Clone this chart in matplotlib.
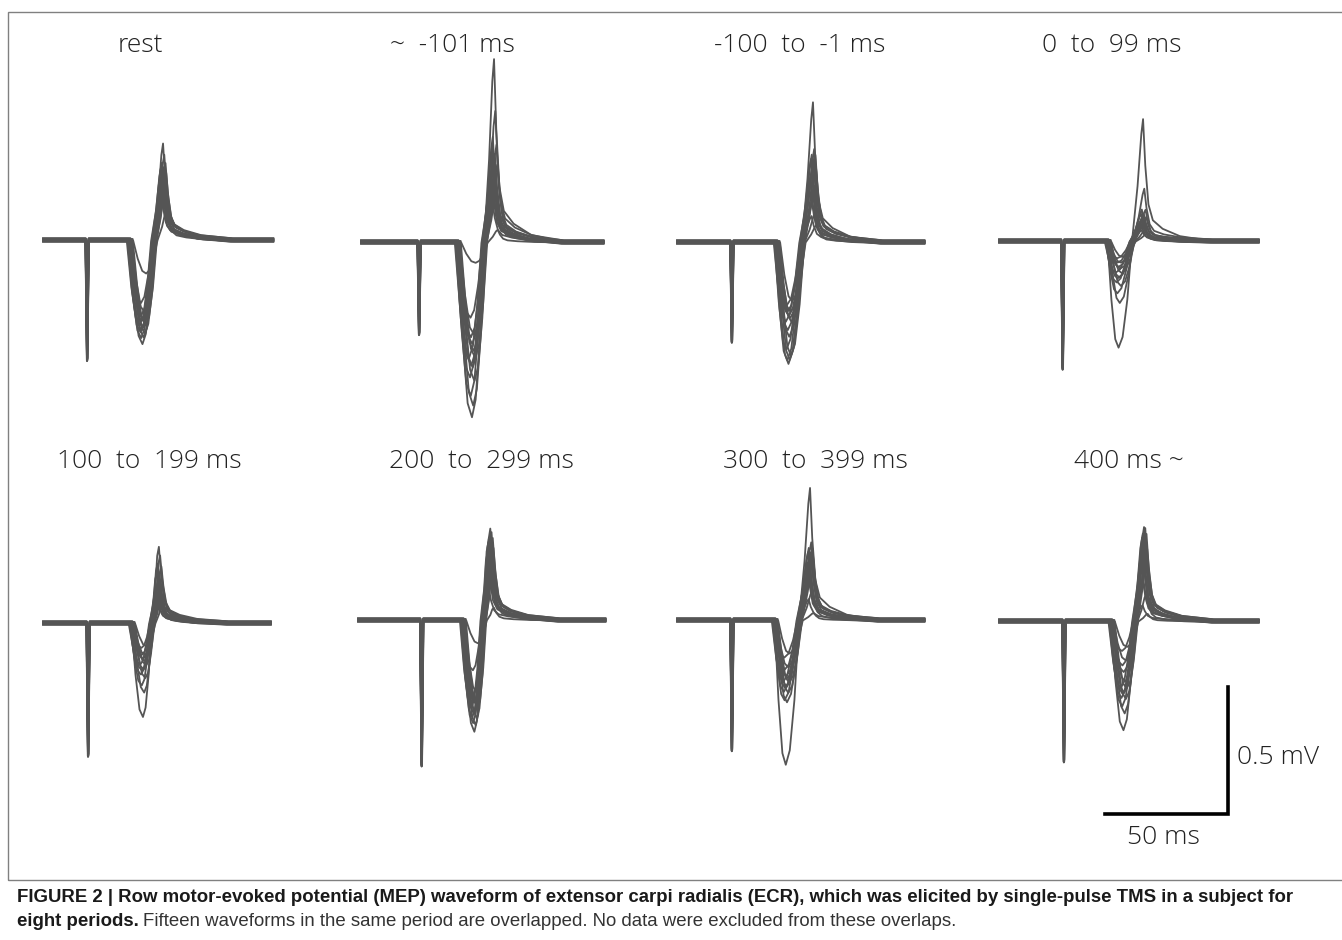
import matplotlib
matplotlib.use("Agg")
import matplotlib.pyplot as plt
from matplotlib.patches import Rectangle

W, H = 1342, 940
PX_MS = 2.45   # pixels per ms  (50 ms bar)
PX_MV = 254    # pixels per mV  (0.5 mV bar)

titles = ["rest", "~  -101 ms", "-100  to  -1 ms", "0  to  99 ms",
          "100  to  199 ms", "200  to  299 ms", "300  to  399 ms", "400 ms ~"]

# timing per period (ms from sweep start)
sweep = [94, 99, 101, 106, 93, 101, 101, 106]
art_t = [18.0, 23.7, 22.4, 26.0, 18.4, 26.0, 22.4, 26.5]
art_mv = [-0.47, -0.36, -0.39, -0.50, -0.52, -0.57, -0.51, -0.55]
onset = [35.3, 39.4, 40.6, 44.3, 36.1, 42.7, 39.8, 45.8]
trough_t = [40.6, 45.3, 45.5, 48.8, 40.8, 47.5, 44.4, 50.8]
peak_t = [49.0, 54.3, 55.5, 58.8, 47.3, 54.0, 54.3, 59.2]

# negative / positive MEP amplitude of each of the 15 sweeps (mV)
troughs = [
    [-0.41, -0.39, -0.38, -0.37, -0.36, -0.35, -0.35, -0.34, -0.33, -0.32, -0.31, -0.30, -0.28, -0.25, -0.13],
    [-0.69, -0.65, -0.60, -0.55, -0.53, -0.50, -0.48, -0.46, -0.45, -0.43, -0.40, -0.38, -0.36, -0.30, -0.08],
    [-0.48, -0.47, -0.46, -0.45, -0.42, -0.38, -0.34, -0.32, -0.31, -0.30, -0.29, -0.28, -0.27, -0.25, -0.23],
    [-0.42, -0.25, -0.20, -0.18, -0.16, -0.15, -0.14, -0.13, -0.12, -0.11, -0.10, -0.09, -0.08, -0.07, -0.06],
    [-0.37, -0.28, -0.24, -0.22, -0.20, -0.19, -0.18, -0.17, -0.16, -0.15, -0.14, -0.13, -0.12, -0.10, -0.09],
    [-0.44, -0.42, -0.40, -0.39, -0.38, -0.37, -0.36, -0.35, -0.34, -0.33, -0.32, -0.30, -0.28, -0.20, -0.09],
    [-0.57, -0.33, -0.31, -0.29, -0.28, -0.27, -0.26, -0.25, -0.24, -0.23, -0.22, -0.20, -0.18, -0.15, -0.13],
    [-0.43, -0.37, -0.33, -0.31, -0.30, -0.29, -0.28, -0.27, -0.26, -0.24, -0.20, -0.18, -0.15, -0.12, -0.10],
]
peaks = [
    [0.38, 0.33, 0.31, 0.30, 0.29, 0.28, 0.27, 0.26, 0.25, 0.24, 0.23, 0.22, 0.20, 0.18, 0.12],
    [0.72, 0.51, 0.42, 0.38, 0.36, 0.34, 0.32, 0.30, 0.28, 0.26, 0.24, 0.22, 0.20, 0.15, 0.05],
    [0.55, 0.36, 0.35, 0.34, 0.33, 0.32, 0.30, 0.28, 0.26, 0.22, 0.18, 0.15, 0.12, 0.10, 0.07],
    [0.48, 0.20, 0.13, 0.12, 0.11, 0.10, 0.10, 0.09, 0.08, 0.08, 0.07, 0.06, 0.05, 0.04, 0.03],
    [0.30, 0.26, 0.24, 0.22, 0.20, 0.18, 0.17, 0.15, 0.14, 0.13, 0.12, 0.11, 0.10, 0.09, 0.08],
    [0.36, 0.34, 0.33, 0.32, 0.31, 0.30, 0.29, 0.28, 0.27, 0.26, 0.25, 0.22, 0.18, 0.12, 0.05],
    [0.52, 0.30, 0.29, 0.28, 0.27, 0.26, 0.25, 0.24, 0.23, 0.22, 0.20, 0.17, 0.12, 0.08, 0.03],
    [0.37, 0.36, 0.35, 0.34, 0.33, 0.32, 0.30, 0.28, 0.26, 0.24, 0.20, 0.15, 0.11, 0.06, 0.03],
]
# latency scatter and baseline level of the 15 sweeps
lag_ms = [0.0, 0.5, -0.5, 1.0, -0.8, 0.3, -0.3, 1.3, -1.1, 0.7, 0.1, -0.4, 0.9, -0.6, 1.5]
level_mv = [0.0, 0.006, -0.006, 0.003, -0.003, 0.007, -0.007, 0.004, -0.004, 0.001, -0.001, 0.005, -0.005, 0.002, -0.002]

# MEP shape (fraction of trough / peak)
neg_shape = [0, 0.55, 0.92, 1.0, 0.9, 0.55, 0]
pos_shape = [0, 0.45, 0.88, 1.0, 0.62, 0.3, 0.17, 0.1, 0.04, 0]

# panel layout in pixels: sweep start x, baseline y
x0_px = [43, 361, 677, 999, 43, 358, 677, 999]
base_px = [240, 242, 242, 241, 623, 620, 620, 621]
title_xy = [(140, 46), (452, 46), (800, 46), (1112, 46),
            (149, 462), (481, 462), (815, 462), (1129, 462)]

COL = "#555555"
TFONT = ["Open Sans", "DejaVu Sans"]
TSIZE = 19

fig = plt.figure(figsize=(W / 100, H / 100), dpi=100)


def px_axes(x, y, w, h):
    # axes placed in figure pixels, y measured from top
    return fig.add_axes([x / W, (H - y - h) / H, w / W, h / H])


for k in range(8):
    ax = px_axes(x0_px[k] - 20, base_px[k] - 250, 320, 450)
    ax.set_xlim(-20 / PX_MS, 300 / PX_MS)
    ax.set_ylim(-200 / PX_MV, 250 / PX_MV)
    ax.axis("off")
    for j in range(15):
        s = lag_ms[j]
        on, tr, pk = onset[k] + s, trough_t[k] + s, peak_t[k] + s
        zc = tr + 0.55 * (pk - tr)
        lo, hi, b = troughs[k][j], peaks[k][j], level_mv[j]
        a = art_t[k] + 0.1 * s
        t = ([0, a - 0.6, a, a + 0.6]
             + [on, on + 0.35 * (tr - on), on + 0.7 * (tr - on), tr,
                tr + 0.3 * (zc - tr), tr + 0.65 * (zc - tr), zc]
             + [zc + 0.5 * (pk - zc), pk - 0.7, pk, pk + 0.9, pk + 2.2,
                pk + 4.0, pk + 8, pk + 15, pk + 28]
             + [sweep[k]])
        y = ([b, b, art_mv[k] + b, b]
             + [b + f * lo for f in neg_shape]
             + [b + f * hi for f in pos_shape[1:]]
             + [b])
        ax.plot(t, y, color=COL, lw=1.3, clip_on=False)
    tx, ty = title_xy[k]
    fig.text(tx / W, 1 - ty / H, titles[k], ha="center", va="center",
             fontsize=TSIZE, family=TFONT, weight="light", color="#222222")

# scale bar
sb = px_axes(1105 - 10, 814 - 140, 150, 150)
sb.set_xlim(-10 / PX_MS, 140 / PX_MS)
sb.set_ylim(-10 / PX_MV, 140 / PX_MV)
sb.axis("off")
sb.plot([0, 50, 50], [0, 0, 0.5], color="black", lw=2.6,
        solid_joinstyle="miter", clip_on=False)
fig.text(1237 / W, 1 - 758 / H, "0.5 mV", ha="left", va="center",
         fontsize=TSIZE, family=TFONT, weight="light", color="#222222")
fig.text(1163 / W, 1 - 838 / H, "50 ms", ha="center", va="center",
         fontsize=TSIZE, family=TFONT, weight="light", color="#222222")

# frame around the figure panel
fig.patches.append(Rectangle((8 / W, 1 - 880 / H), 1340 / W, 868 / H,
                             transform=fig.transFigure, fill=False,
                             edgecolor="#808080", lw=1.0))

# caption, sized so the first line runs to the right margin like the original
cap_font = ["Liberation Sans", "DejaVu Sans"]
line1 = fig.text(17 / W, 1 - 897 / H,
                 "FIGURE 2 | Row motor-evoked potential (MEP) waveform of extensor carpi radialis (ECR), "
                 "which was elicited by single-pulse TMS in a subject for",
                 ha="left", va="center", fontsize=11.5, weight="bold", family=cap_font, color="#1a1a1a")
r = fig.canvas.get_renderer()
csize = 11.5 * 1288 / line1.get_window_extent(renderer=r).width
line1.set_fontsize(csize)
lead = fig.text(17 / W, 1 - 921 / H, "eight periods.", ha="left", va="center",
                fontsize=csize, weight="bold", family=cap_font, color="#1a1a1a")
bb = lead.get_window_extent(renderer=r)
fig.text((bb.x1 + 4) / W, 1 - 921 / H,
         "Fifteen waveforms in the same period are overlapped. No data were excluded from these overlaps.",
         ha="left", va="center", fontsize=csize, family=cap_font, color="#333333")

fig.savefig("out.png", dpi=100)
